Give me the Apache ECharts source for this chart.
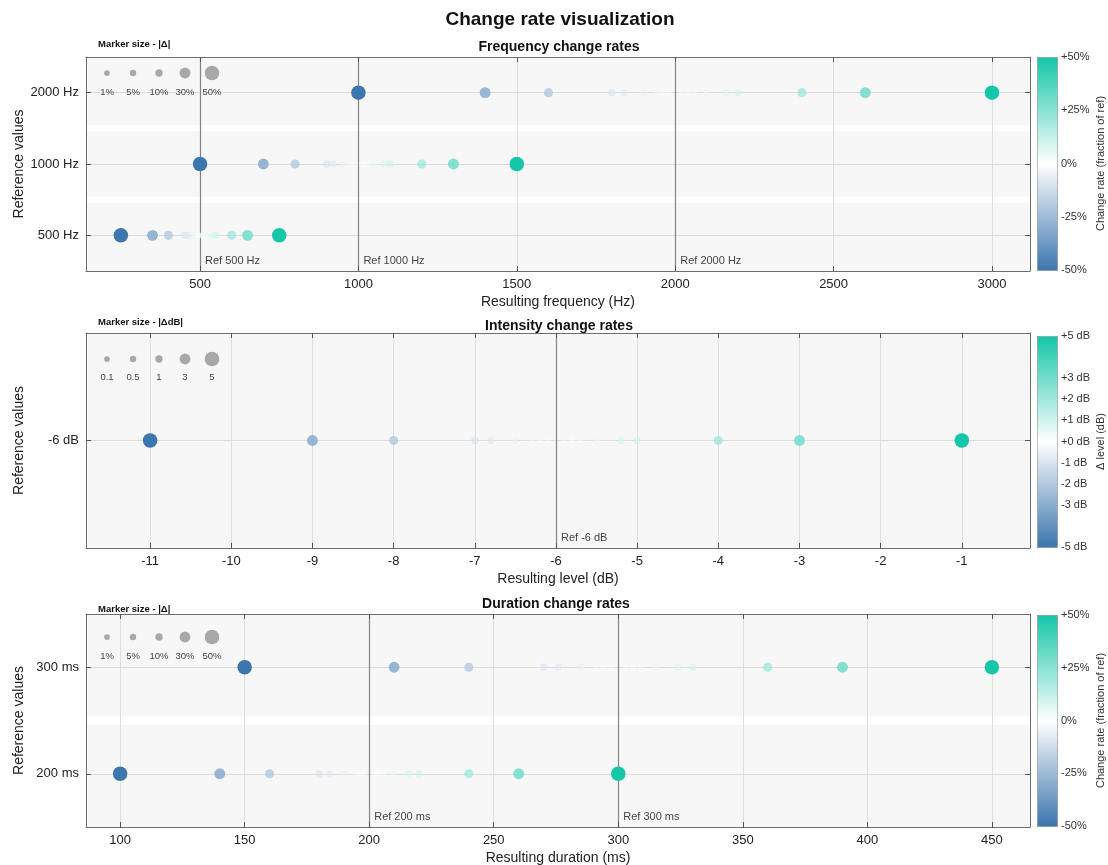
<!DOCTYPE html>
<html><head><meta charset="utf-8">
<script src="https://cdn.jsdelivr.net/npm/echarts@6/dist/echarts.min.js"></script>
<style>html,body{margin:0;padding:0;background:#fff}#c{width:1108px;height:865px}</style>
</head><body><div id="c"></div>
<script>
// ---------------- data ----------------
const rateSteps = [-50,-30,-20,-10,-8,-5,-3,-2,-1,1,2,3,5,8,10,20,30,50];

const freqCategories = ['500 Hz','1000 Hz','2000 Hz'];
const freq500  = [250,350,400,450,460,475,485,490,495,505,510,515,525,540,550,600,650,750];
const freq1000 = [500,700,800,900,920,950,970,980,990,1010,1020,1030,1050,1080,1100,1200,1300,1500];
const freq2000 = [1000,1400,1600,1800,1840,1900,1940,1960,1980,2020,2040,2060,2100,2160,2200,2400,2600,3000];
const freqTicks = [500,1000,1500,2000,2500,3000];
const freqRefs = [500,1000,2000];
const freqRefLabels = ['Ref 500 Hz','Ref 1000 Hz','Ref 2000 Hz'];

const levelCategories = ['-6 dB'];
const levelX = [-11,-9,-8,-7,-6.8,-6.5,-6.3,-6.2,-6.1,-5.9,-5.8,-5.7,-5.5,-5.2,-5,-4,-3,-1];
const levelDelta = [-5,-3,-2,-1,-0.8,-0.5,-0.3,-0.2,-0.1,0.1,0.2,0.3,0.5,0.8,1,2,3,5];
const levelTicks = [-11,-10,-9,-8,-7,-6,-5,-4,-3,-2,-1];
const levelRefs = [-6];
const levelRefLabels = ['Ref -6 dB'];

const durCategories = ['200 ms','300 ms'];
const dur200 = [100,140,160,180,184,190,194,196,198,202,204,206,210,216,220,240,260,300];
const dur300 = [150,210,240,270,276,285,291,294,297,303,306,309,315,324,330,360,390,450];
const durTicks = [100,150,200,250,300,350,400,450];
const durRefs = [200,300];
const durRefLabels = ['Ref 200 ms','Ref 300 ms'];

const pctLegendValues = [1,5,10,30,50];
const pctLegendLabels = ['1%','5%','10%','30%','50%'];
const dbLegendValues = [0.1,0.5,1,3,5];
const dbLegendLabels = ['0.1','0.5','1','3','5'];

const pctBarTicks = [-50,-25,0,25,50];
const dbBarTicks = [-5,-3,-2,-1,0,1,2,3,5];

// ---------------- style ----------------
const FONT = '"Liberation Sans", Arial, sans-serif';
const CMAP = ['#3b76ae','#ffffff','#15c6a8'];
const pctSize = a => 5.5 + 18 * Math.abs(a) / 100;
const dbSize = a => 5.5 + 1.8 * Math.abs(a);
const pctAlpha = a => 0.45 + 0.55 * Math.sqrt(Math.abs(a) / 50);
const dbAlpha = a => 0.45 + 0.55 * Math.sqrt(Math.abs(a) / 5);

const panels = [
  {top:57, height:214, min:140, max:3120, ticks:freqTicks, refs:freqRefs, refLabels:freqRefLabels,
   cats:freqCategories, rows:[freq500,freq1000,freq2000], vals:[rateSteps,rateSteps,rateSteps],
   size:pctSize, alpha:pctAlpha, name:'Resulting frequency (Hz)', vm:[-50,50], gap:0.042,
   bar:{top:57,height:213,ticks:pctBarTicks,fmt:v=>v>0?'+'+v+'%':v+'%',name:'Change rate (fraction of ref)'}},
  {top:333, height:215, min:-11.79, max:-0.16, ticks:levelTicks, refs:levelRefs, refLabels:levelRefLabels,
   cats:levelCategories, rows:[levelX], vals:[levelDelta],
   size:dbSize, alpha:dbAlpha, name:'Resulting level (dB)', vm:[-5,5], gap:0,
   bar:{top:336,height:211,ticks:dbBarTicks,fmt:v=>(v>=0?'+':'')+v+' dB',name:'\u0394 level (dB)'}},
  {top:614, height:213, min:86.3, max:465.3, ticks:durTicks, refs:durRefs, refLabels:durRefLabels,
   cats:durCategories, rows:[dur200,dur300], vals:[rateSteps,rateSteps],
   size:pctSize, alpha:pctAlpha, name:'Resulting duration (ms)', vm:[-50,50], gap:0.04,
   bar:{top:615,height:211,ticks:pctBarTicks,fmt:v=>v>0?'+'+v+'%':v+'%',name:'Change rate (fraction of ref)'}}
];

const grid=[], xAxis=[], yAxis=[], series=[], visualMap=[];
const tickStyle = {inside:true, length:5, lineStyle:{color:'#555', width:1}};
const lineStyle = {show:true, onZero:false, lineStyle:{color:'#6e6e6e', width:1}};

panels.forEach((p, pi) => {
  const n = p.cats.length;
  grid.push({left:86, right:78, top:p.top, height:p.height, show:false, containLabel:false, outerBoundsMode:'none'});
  xAxis.push({type:'value', gridIndex:pi, min:p.min, max:p.max, position:'bottom', z:10,
    axisLine:lineStyle, splitLine:{show:false},
    axisTick:Object.assign({customValues:p.ticks}, tickStyle),
    axisLabel:{customValues:p.ticks, formatter:v=>String(v), fontFamily:FONT, fontSize:13, color:'#222', margin:7},
    name:p.name, nameLocation:'middle', nameGap:24, nameMoveOverlap:false,
    nameTextStyle:{fontFamily:FONT, fontSize:14, color:'#222'}});
  xAxis.push({type:'value', gridIndex:pi, min:p.min, max:p.max, position:'top', z:10,
    axisLine:lineStyle, splitLine:{show:false}, axisLabel:{show:false},
    axisTick:Object.assign({customValues:p.ticks}, tickStyle)});
  const yv = p.cats.map((c,i)=>i);
  yAxis.push({type:'value', gridIndex:pi, min:-0.5, max:n-0.5, position:'left', z:10,
    axisLine:lineStyle, splitLine:{show:false},
    axisTick:Object.assign({customValues:yv}, tickStyle),
    axisLabel:{customValues:yv, formatter:v=>p.cats[Math.round(v)], fontFamily:FONT, fontSize:13, color:'#222', margin:7},
    name:'Reference values', nameLocation:'middle', nameGap:60, nameRotate:90, nameMoveOverlap:false,
    nameTextStyle:{fontFamily:FONT, fontSize:14, color:'#222'}});
  yAxis.push({type:'value', gridIndex:pi, min:-0.5, max:n-0.5, position:'right', z:10,
    axisLine:lineStyle, splitLine:{show:false}, axisLabel:{show:false},
    axisTick:Object.assign({customValues:yv}, tickStyle)});

  // bands
  const bands = p.cats.map((c,i)=>[
    {yAxis: i===0 ? -0.5 : i-0.5+p.gap},
    {yAxis: i===n-1 ? n-0.5 : i+0.5-p.gap}]);
  series.push({type:'line', xAxisIndex:2*pi, yAxisIndex:2*pi, data:[], z:0, silent:true, showSymbol:false,
    markArea:{silent:true, z:0, label:{show:false}, itemStyle:{color:'#f7f7f7', borderWidth:0}, data:bands}});
  // grid + ref lines, ref labels
  const lines = [];
  p.ticks.forEach(t=>{ if(!p.refs.includes(t)) lines.push({xAxis:t, lineStyle:{color:'#dedede', width:1, type:'solid'}}); });
  p.cats.forEach((c,i)=>lines.push({yAxis:i, lineStyle:{color:'#dcdcdc', width:1, type:'solid'}}));
  p.refs.forEach(r=>lines.push({xAxis:r, lineStyle:{color:'#848484', width:1.2, type:'solid'}}));
  series.push({type:'line', xAxisIndex:2*pi, yAxisIndex:2*pi, data:[], z:1, silent:true, showSymbol:false,
    markLine:{silent:true, z:1, symbol:['none','none'], label:{show:false}, animation:false, data:lines},
    markPoint:{silent:true, z:2, symbol:'circle', symbolSize:0, animation:false,
      data:p.refs.map((r,k)=>({coord:[r,-0.5], value:p.refLabels[k]})),
      label:{show:true, position:'right', distance:5, offset:[0,-10], formatter:d=>d.value,
        fontFamily:FONT, fontSize:11, color:'#444'}}});
  // points
  const data = [];
  p.rows.forEach((row,i)=>row.forEach((x,k)=>{
    const v = p.vals[i][k];
    data.push({value:[x, i, v], itemStyle:{opacity:p.alpha(v)}});
  }));
  series.push({type:'scatter', xAxisIndex:2*pi, yAxisIndex:2*pi, z:5, data,
    symbolSize:v=>p.size(v[2]), animation:false});
  visualMap.push({type:'continuous', min:p.vm[0], max:p.vm[1], dimension:2, seriesIndex:3*pi+2,
    inRange:{color:CMAP}, calculable:false, hoverLink:false, left:1037, top:p.bar.top,
    itemWidth:20, itemHeight:p.bar.height, padding:0, text:null, showLabel:false,
    borderColor:'#9a9a9a', borderWidth:1});
});

// colorbar axes
panels.forEach((p, pi) => {
  const gi = 3 + pi;
  grid.push({left:1037, width:20, top:p.bar.top, height:p.bar.height, show:false, outerBoundsMode:'none'});
  xAxis.push({type:'value', gridIndex:gi, min:0, max:1, show:false});
  yAxis.push({type:'value', gridIndex:gi, min:p.vm[0], max:p.vm[1], position:'right',
    axisLine:{show:false}, splitLine:{show:false},
    axisTick:{customValues:p.bar.ticks, length:3, lineStyle:{color:'#666'}},
    axisLabel:{customValues:p.bar.ticks, formatter:p.bar.fmt, fontFamily:FONT, fontSize:11, color:'#333', margin:4},
    name:p.bar.name, nameLocation:'middle', nameRotate:90, nameGap:38, nameMoveOverlap:false,
    nameTextStyle:{fontFamily:FONT, fontSize:11, color:'#333'}});
});

// graphics: titles and marker-size legends
const graphic = [];
const txt = (x,y,text,font,fill,align) => graphic.push({type:'text', x, y, z:20, silent:true,
  style:{text, font, fill:fill||'#111', align:align||'center', verticalAlign:'middle'}});
txt(560, 20, 'Change rate visualization', 'bold 19px '+FONT);
txt(559, 47, 'Frequency change rates', 'bold 14px '+FONT);
txt(559, 326, 'Intensity change rates', 'bold 14px '+FONT);
txt(556, 604, 'Duration change rates', 'bold 14px '+FONT);
const legendX = [107,133,159,185,212];
[{y:44, t:'Marker size - |\u0394|', cy:73, ly:92, v:pctLegendValues, l:pctLegendLabels, s:pctSize},
 {y:322, t:'Marker size - |\u0394dB|', cy:359, ly:377, v:dbLegendValues, l:dbLegendLabels, s:dbSize},
 {y:609, t:'Marker size - |\u0394|', cy:637, ly:656, v:pctLegendValues, l:pctLegendLabels, s:pctSize}
].forEach(L=>{
  txt(98, L.y, L.t, 'bold 9.5px '+FONT, '#111', 'left');
  L.v.forEach((v,k)=>{
    graphic.push({type:'circle', silent:true, z:20, shape:{cx:legendX[k], cy:L.cy, r:L.s(v)/2}, style:{fill:'#a8a8a8'}});
    txt(legendX[k], L.ly, L.l[k], '9.5px '+FONT, '#444');
  });
});

const chart = echarts.init(document.getElementById('c'), null, {renderer:'canvas'});
chart.setOption({animation:false, backgroundColor:'#ffffff', grid, xAxis, yAxis, series, visualMap, graphic});
</script></body></html>
